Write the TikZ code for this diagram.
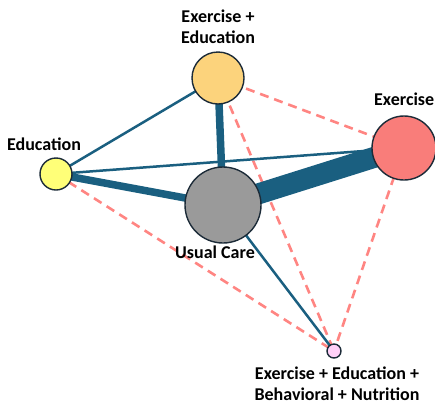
\documentclass[tikz,border=0pt]{standalone}
\usepackage{fontspec}
\setmainfont{Carlito}
\usetikzlibrary{backgrounds}
\definecolor{edgeblue}{HTML}{1A5F80}
\definecolor{dashred}{HTML}{FF8582}
\definecolor{outl}{HTML}{1C2B38}
\definecolor{cExEd}{HTML}{FCD37C}
\definecolor{cEx}{HTML}{F97D7A}
\definecolor{cEdu}{HTML}{FFFF78}
\definecolor{cUC}{HTML}{9A9A9A}
\definecolor{cAll}{HTML}{FFD0F8}
\tikzset{
  trt/.style={circle, draw=outl, line width=1.4pt, inner sep=0pt, minimum size=#1},
  lbl/.style={font=\bfseries\fontsize{18}{21}\selectfont, text=black, anchor=base, align=center, inner sep=0pt},
  solidedge/.style={draw=edgeblue, line width=#1},
  dashedge/.style={draw=dashred, line width=2.6pt, dash pattern=on 9pt off 6pt},
}
\begin{document}
\begin{tikzpicture}[x=1pt, y=-1pt]
\useasboundingbox (0,0) rectangle (435,405);
\node[trt=52pt, fill=cExEd] (exed) at (218,78) {};
\node[trt=32pt, fill=cEdu] (edu) at (56,174) {};
\node[trt=76pt, fill=cUC] (uc) at (223,205) {};
\node[trt=64pt, fill=cEx] (ex) at (404,148) {};
\node[trt=14pt, fill=cAll] (all) at (334,351) {};
\begin{scope}[on background layer]
  \draw[dashedge] (exed.center) -- (ex.center);
  \draw[dashedge] (exed.center) -- (all.center);
  \draw[dashedge] (edu.center) -- (all.center);
  \draw[dashedge] (ex.center) -- (all.center);
  \draw[solidedge=2.5pt] (exed.center) -- (edu.center);
  \draw[solidedge=2.5pt] (edu.center) -- (ex.center);
  \draw[solidedge=2.5pt] (uc.center) -- (all.center);
  \draw[solidedge=7.5pt] (exed.center) -- (uc.center);
  \draw[solidedge=7.5pt] (edu.center) -- (uc.center);
  \draw[solidedge=21pt] (uc.center) -- (ex.center);
\end{scope}
\node[lbl] (lexed) at (218,43) {Exercise +\\Education};
\node[lbl] (ledu) at (44,150) {Education};
\node[lbl, anchor=base west] (lex) at (374,105) {Exercise};
\node[lbl] (luc) at (215,258) {Usual Care};
\node[lbl] (lall) at (337,400) {Exercise + Education +\\Behavioral + Nutrition};
\end{tikzpicture}
\end{document}
